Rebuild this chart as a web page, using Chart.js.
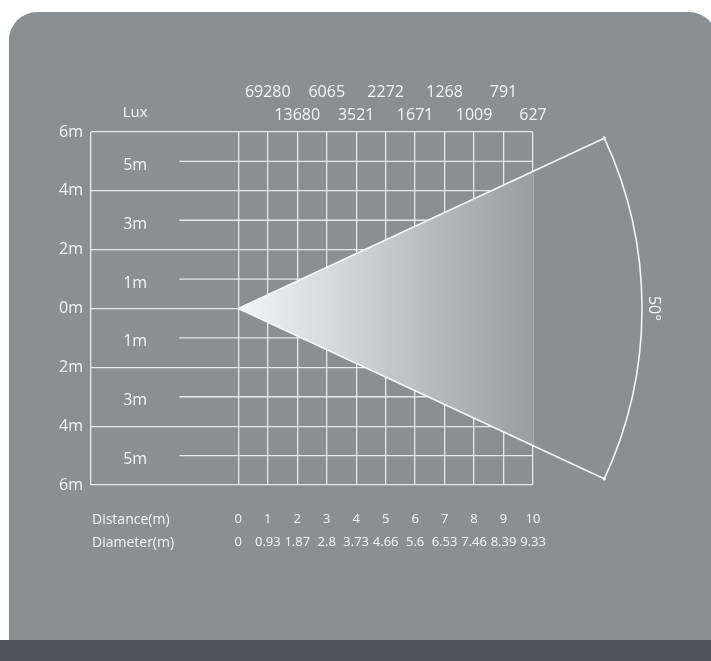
<!DOCTYPE html>
<html>
<head>
<meta charset="utf-8">
<script src="https://cdn.jsdelivr.net/npm/chart.js@4.4.0/dist/chart.umd.min.js"></script>
<style>
  html, body { margin: 0; padding: 0; background: #fff; }
</style>
</head>
<body>
<canvas id="beamChart" width="711" height="661"></canvas>
<script>
// Throw distance (m) and beam diameter at that distance (m)
const distances = [0, 1, 2, 3, 4, 5, 6, 7, 8, 9, 10];
const diameters = ["0", "0.93", "1.87", "2.8", "3.73", "4.66", "5.6", "6.53", "7.46", "8.39", "9.33"];

// Illuminance at each metre
const luxDistances = [1, 2, 3, 4, 5, 6, 7, 8, 9, 10];
const luxValues = [69280, 13680, 6065, 3521, 2272, 1671, 1268, 1009, 791, 627];

// Height scale (left) and the odd-metre marks inside the grid
const heightTicks = [6, 4, 2, 0, -2, -4, -6];
const halfTicks = [5, 3, 1, -1, -3, -5];

const beamAngle = 50; // degrees

const LINE = "rgba(238,240,242,0.92)";
const TEXT = "#f4f5f6";
const FONT = "'Open Sans', sans-serif";

// beam edge at the last distance
const lastD = distances[distances.length - 1];
const halfW = parseFloat(diameters[diameters.length - 1]) / 2;
// the angle arc is drawn at this radius (m), edges run out to it
const arcR = 13.7;
const halfRad = (beamAngle / 2) * Math.PI / 180;
const arcEnd = { x: arcR * Math.cos(halfRad), y: arcR * Math.sin(halfRad) };

function beamGradient(context) {
  const chart = context.chart;
  if (!chart.chartArea) return "#cccccc";
  const x = chart.scales.x;
  const g = chart.ctx.createLinearGradient(x.getPixelForValue(0), 0, x.getPixelForValue(lastD), 0);
  g.addColorStop(0, "#f3f4f5");
  g.addColorStop(1, "#999da1");
  return g;
}

const halfLineSets = halfTicks.map((h) => ({
  data: [{ x: -2, y: h }, { x: lastD, y: h }],
  showLine: true,
  borderColor: LINE,
  borderWidth: 1.3,
  pointRadius: 0,
  fill: false,
  order: 5,
}));

const beamDecor = {
  id: "beamDecor",
  beforeDraw(chart) {
    const { ctx, width, height } = chart;
    ctx.save();
    ctx.fillStyle = "#ffffff";
    ctx.fillRect(0, 0, width, height);
    ctx.fillStyle = "#8a8f94";
    ctx.beginPath();
    ctx.roundRect(9, 12, width + 6 - 9, height - 12 + 20, 28);
    ctx.fill();
    ctx.fillStyle = "#4b5259";
    ctx.fillRect(0, 640, width, height - 640);
    ctx.restore();
  },
  afterDraw(chart) {
    const { ctx, chartArea } = chart;
    const x = chart.scales.x, y = chart.scales.y;
    const cx = x.getPixelForValue(0), cy = y.getPixelForValue(0);
    const rPx = x.getPixelForValue(arcR) - cx;
    ctx.save();
    // angle arc
    ctx.strokeStyle = "#f4f5f6";
    ctx.lineWidth = 1.6;
    ctx.beginPath();
    ctx.arc(cx, cy, rPx, -halfRad, halfRad);
    ctx.stroke();
    // small marks at the arc ends
    [-1, 1].forEach((s) => {
      const a = s * halfRad;
      const ex = cx + rPx * Math.cos(a), ey = cy + rPx * Math.sin(a);
      ctx.beginPath();
      ctx.arc(ex, ey, 1.6, 0, Math.PI * 2);
      ctx.fillStyle = "#f4f5f6";
      ctx.fill();
    });
    // angle label
    ctx.fillStyle = TEXT;
    ctx.font = "16px " + FONT;
    ctx.textAlign = "center";
    ctx.textBaseline = "middle";
    ctx.translate(cx + rPx + 12, cy);
    ctx.rotate(Math.PI / 2);
    ctx.fillText(beamAngle + "°", 0, 0);
    ctx.restore();

    ctx.save();
    ctx.fillStyle = TEXT;
    ctx.textBaseline = "middle";
    // odd-metre labels
    ctx.font = "16px " + FONT;
    ctx.textAlign = "center";
    halfTicks.forEach((h) => {
      ctx.fillText(Math.abs(h) + "m", x.getPixelForValue(-3.5), y.getPixelForValue(h) + 4);
    });
    // Lux heading
    ctx.font = "15px " + FONT;
    ctx.fillText("Lux", x.getPixelForValue(-3.5), chartArea.top - 19);
    // row headings under the grid
    ctx.font = "14px " + FONT;
    ctx.textAlign = "left";
    ctx.fillText("Distance(m)", chartArea.left + 1, chartArea.bottom + 35);
    ctx.fillText("Diameter(m)", chartArea.left + 1, chartArea.bottom + 58);
    ctx.restore();
  },
};

new Chart(document.getElementById("beamChart"), {
  type: "scatter",
  data: {
    datasets: [
      // beam edges out to the angle arc
      {
        data: [{ x: 0, y: 0 }, arcEnd],
        showLine: true, borderColor: "#f4f5f6", borderWidth: 1.6,
        pointRadius: 0, fill: false, clip: false, order: 0,
      },
      {
        data: [{ x: 0, y: 0 }, { x: arcEnd.x, y: -arcEnd.y }],
        showLine: true, borderColor: "#f4f5f6", borderWidth: 1.6,
        pointRadius: 0, fill: false, clip: false, order: 0,
      },
      // beam cone, filled between upper and lower edge
      {
        data: [{ x: 0, y: 0 }, { x: lastD, y: halfW }],
        showLine: true, borderWidth: 0, borderColor: "rgba(0,0,0,0)",
        backgroundColor: beamGradient, pointRadius: 0, fill: "+1", order: 1,
      },
      {
        data: [{ x: 0, y: 0 }, { x: lastD, y: -halfW }],
        showLine: true, borderWidth: 0, borderColor: "rgba(0,0,0,0)",
        pointRadius: 0, fill: false, order: 1,
      },
      ...halfLineSets,
    ],
  },
  options: {
    responsive: false,
    animation: false,
    layout: { padding: { left: 51, top: 82, right: 178, bottom: 106 } },
    plugins: {
      legend: { display: false },
      tooltip: { enabled: false },
      filler: { drawTime: "beforeDatasetDraw" },
    },
    scales: {
      x: {
        type: "linear",
        position: "bottom",
        min: -5,
        max: lastD,
        afterBuildTicks: (s) => { s.ticks = [-5, ...distances].map((v) => ({ value: v })); },
        afterFit: (s) => { s.height = 70; },
        grid: { color: LINE, lineWidth: 1.3, drawTicks: false },
        border: { display: false },
        ticks: {
          autoSkip: false,
          maxRotation: 0,
          padding: 23,
          color: TEXT,
          font: { family: FONT, size: 13, lineHeight: "23px" },
          callback: (v, i) => (i === 0 ? "" : [String(distances[i - 1]), diameters[i - 1]]),
        },
      },
      lux: {
        type: "linear",
        position: "top",
        axis: "x",
        min: -5,
        max: lastD,
        afterBuildTicks: (s) => { s.ticks = luxDistances.map((v) => ({ value: v })); },
        afterFit: (s) => { s.height = 50; },
        grid: { display: false, drawTicks: false },
        border: { display: false },
        ticks: {
          autoSkip: false,
          maxRotation: 0,
          padding: 5,
          color: TEXT,
          font: { family: FONT, size: 16, lineHeight: "23px" },
          callback: (v, i) => (i % 2 === 0 ? [String(luxValues[i]), ""] : ["", String(luxValues[i])]),
        },
      },
      y: {
        type: "linear",
        min: -6,
        max: 6,
        afterBuildTicks: (s) => { s.ticks = heightTicks.map((v) => ({ value: v })); },
        afterFit: (s) => { s.width = 40; },
        grid: { color: LINE, lineWidth: 1.3, drawTicks: false },
        border: { display: false },
        ticks: {
          padding: 8,
          color: TEXT,
          font: { family: FONT, size: 16 },
          callback: (v) => Math.abs(v) + "m",
        },
      },
    },
  },
  plugins: [beamDecor],
});
</script>
</body>
</html>
